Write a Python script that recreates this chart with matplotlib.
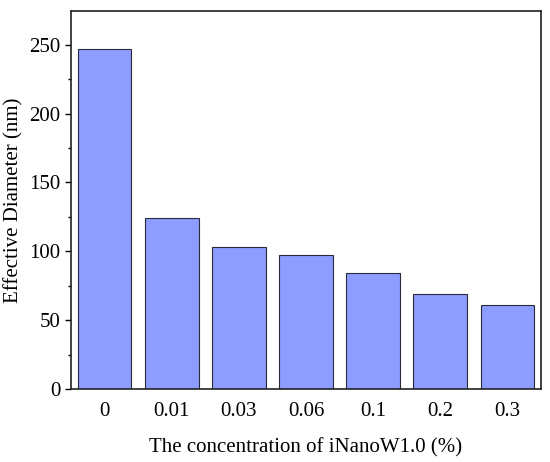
import matplotlib
matplotlib.use("Agg")
import matplotlib.pyplot as plt
from matplotlib.ticker import MultipleLocator

# data
concentrations = ["0", "0.01", "0.03", "0.06", "0.1", "0.2", "0.3"]
diameters = [247, 124, 103, 97, 84, 69, 61]

plt.rcParams['font.family'] = ['Liberation Serif', 'DejaVu Serif']

fig = plt.figure(figsize=(5.5, 4.62), dpi=100)
ax = fig.add_axes([71 / 550, 1 - 389 / 462, 470 / 550, 378 / 462])

x = range(len(concentrations))
ax.bar(x, diameters, width=0.8, color='#8c9cff', edgecolor='#2a2a3a', linewidth=0.8)

ax.set_xlim(-0.5, len(concentrations) - 0.5)
ax.set_ylim(0, 274.5)
ax.set_xticks(list(x))
ax.set_xticklabels(concentrations)
ax.yaxis.set_major_locator(MultipleLocator(50))
ax.yaxis.set_minor_locator(MultipleLocator(25))
ax.tick_params(axis='x', length=0, labelsize=15, pad=9)
ax.tick_params(axis='y', which='major', direction='out', length=4, width=1, labelsize=15)
ax.tick_params(axis='y', which='minor', direction='out', length=2.5, width=1)

for s in ax.spines.values():
    s.set_linewidth(1.2)
    s.set_color('#222222')

ax.set_xlabel("The concentration of iNanoW1.0 (%)", fontsize=15, labelpad=13)
ax.set_ylabel("Effective Diameter (nm)", fontsize=15, labelpad=4)

fig.savefig("out.png", dpi=100)
